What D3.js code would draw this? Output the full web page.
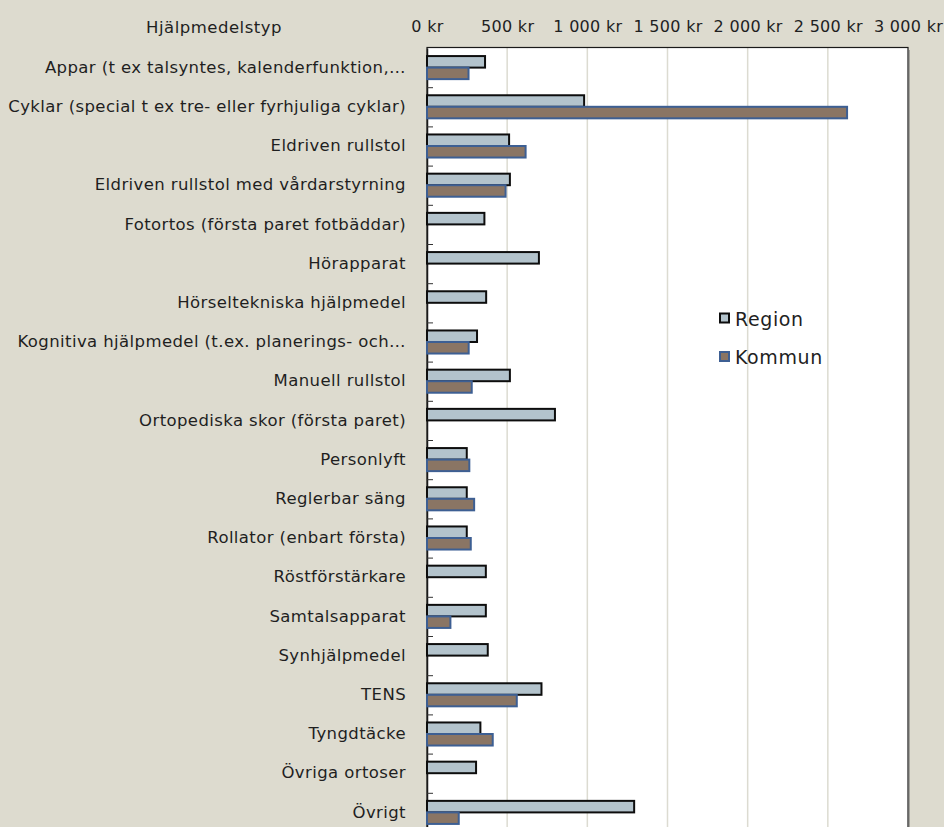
<!DOCTYPE html>
<html><head><meta charset="utf-8">
<script src="https://cdn.jsdelivr.net/npm/d3@7"></script>
<style>
html,body{margin:0;padding:0;background:#dddbcf;}
svg{display:block;}
text{font-family:"DejaVu Sans",sans-serif;fill:#1f1f1f;}
</style></head>
<body>
<svg id="chart" width="944" height="827"></svg>
<script>
const categories = [
  "Appar (t ex talsyntes, kalenderfunktion,…",
  "Cyklar (special t ex tre- eller fyrhjuliga cyklar)",
  "Eldriven rullstol",
  "Eldriven rullstol med vårdarstyrning",
  "Fotortos (första paret fotbäddar)",
  "Hörapparat",
  "Hörseltekniska hjälpmedel",
  "Kognitiva hjälpmedel (t.ex. planerings- och…",
  "Manuell rullstol",
  "Ortopediska skor (första paret)",
  "Personlyft",
  "Reglerbar säng",
  "Rollator (enbart första)",
  "Röstförstärkare",
  "Samtalsapparat",
  "Synhjälpmedel",
  "TENS",
  "Tyngdtäcke",
  "Övriga ortoser",
  "Övrigt"
];
const regionValues = [362, 980, 512, 517, 358, 698, 369, 312, 517, 798, 248, 248, 248, 367, 367, 379, 714, 333, 306, 1292];
const kommunValues = [259, 2620, 615, 490, null, null, null, 260, 279, null, 264, 294, 273, null, 146, null, 560, 410, null, 198];
const seriesNames = ["Region", "Kommun"];
const tickValues = [0, 500, 1000, 1500, 2000, 2500, 3000];
const tickLabels = ["0 kr", "500 kr", "1 000 kr", "1 500 kr", "2 000 kr", "2 500 kr", "3 000 kr"];
const axisTitle = "Hjälpmedelstyp";

const svg = d3.select("#chart");
const mLeft = 427, mRight = 908, mTop = 48, mBottom = 832;

const x = d3.scaleLinear().domain([0, 3000]).range([mLeft, mRight]);
const y = d3.scaleBand().domain(categories).range([mTop, mBottom]).paddingInner(0).paddingOuter(0);
const inner = d3.scaleBand().domain(seriesNames).range([0, y.bandwidth()]).paddingInner(0).paddingOuter(0.7);

// plot background
svg.append("rect").attr("x", mLeft).attr("y", mTop).attr("width", mRight - mLeft).attr("height", mBottom - mTop)
  .attr("fill", "#ffffff");

// gridlines
svg.append("g").selectAll("line").data(tickValues.slice(1, -1)).join("line")
  .attr("x1", d => x(d)).attr("x2", d => x(d)).attr("y1", mTop).attr("y2", mBottom)
  .attr("stroke", "#dcdbd1").attr("stroke-width", 1.5);

// plot border
svg.append("rect").attr("x", mLeft).attr("y", mTop - 0.5).attr("width", mRight - mLeft).attr("height", mBottom - mTop)
  .attr("fill", "none").attr("stroke", "#1a1a1a").attr("stroke-width", 1.2);
svg.append("line").attr("x1", mRight + 1).attr("x2", mRight + 1).attr("y1", mTop + 2).attr("y2", mBottom)
  .attr("stroke", "#6a6a6a").attr("stroke-width", 1);

// top axis labels
const xAxis = d3.axisTop(x).tickValues(tickValues).tickFormat((d, i) => tickLabels[i]).tickSize(0).tickPadding(0);
const gx = svg.append("g").attr("transform", `translate(0,32)`).call(xAxis);
gx.select(".domain").remove();
gx.selectAll("text").attr("font-size", 16).attr("letter-spacing", 0.3)
  .attr("font-family", "DejaVu Sans").attr("fill", "#1f1f1f");

// left axis
const yAxis = d3.axisLeft(y).tickSize(0).tickPadding(21);
const gy = svg.append("g").attr("transform", `translate(${mLeft},0)`).call(yAxis);
gy.select(".domain").attr("stroke", "#1a1a1a").attr("stroke-width", 1.5);
gy.selectAll("text").attr("font-size", 16.5).attr("letter-spacing", 0.4)
  .attr("font-family", "DejaVu Sans").attr("fill", "#1f1f1f");

// category boundary ticks (inside)
svg.append("g").selectAll("line").data(categories.slice(1)).join("line")
  .attr("x1", mLeft).attr("x2", mLeft + 6)
  .attr("y1", d => y(d) + 0.5).attr("y2", d => y(d) + 0.5)
  .attr("stroke", "#333").attr("stroke-width", 1);

// bars
const rows = categories.map((c, i) => ({c, r: regionValues[i], k: kommunValues[i]}));
const g = svg.append("g");
g.selectAll("rect.region").data(rows).join("rect").attr("class", "region")
  .attr("x", x(0)).attr("y", d => y(d.c) + inner("Region"))
  .attr("width", d => x(d.r) - x(0)).attr("height", inner.bandwidth())
  .attr("fill", "#b3c3cc").attr("stroke", "#0d0d0d").attr("stroke-width", 2);
g.selectAll("rect.kommun").data(rows.filter(d => d.k != null)).join("rect").attr("class", "kommun")
  .attr("x", x(0)).attr("y", d => y(d.c) + inner("Kommun"))
  .attr("width", d => x(d.k) - x(0)).attr("height", inner.bandwidth())
  .attr("fill", "#8a7564").attr("stroke", "#3d5f93").attr("stroke-width", 2);

// axis title
svg.append("text").attr("x", 214).attr("y", 33).attr("text-anchor", "middle")
  .attr("font-size", 16.5).attr("letter-spacing", 0.5).text(axisTitle);

// legend
const legend = svg.append("g");
const legendStyles = [
  {fill: "#b3c3cc", stroke: "#0d0d0d"},
  {fill: "#8a7564", stroke: "#3d5f93"}
];
seriesNames.forEach((n, i) => {
  const ly = 318 + i * 38.5;
  legend.append("rect").attr("x", 720).attr("y", ly - 4.5).attr("width", 9).attr("height", 9)
    .attr("fill", legendStyles[i].fill).attr("stroke", legendStyles[i].stroke).attr("stroke-width", 2);
  legend.append("text").attr("x", 735).attr("y", ly + 7.5).attr("font-size", 19).attr("letter-spacing", 0.6).text(n);
});
</script>
</body></html>
